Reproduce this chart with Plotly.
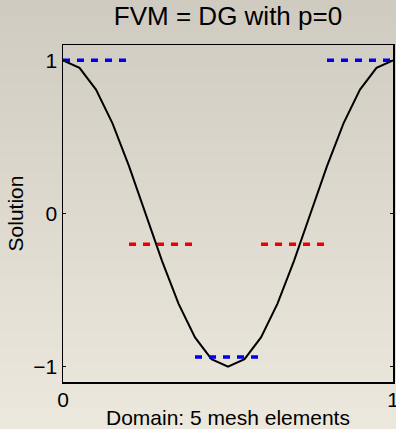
import plotly.graph_objects as go

# ---- data ----
curve_x = [0.0, 0.05, 0.1, 0.15, 0.2, 0.25, 0.3, 0.35, 0.4, 0.45, 0.5,
           0.55, 0.6, 0.65, 0.7, 0.75, 0.8, 0.85, 0.9, 0.95, 1.0]
curve_y = [1.0, 0.951, 0.809, 0.588, 0.309, 0.0, -0.309, -0.588, -0.809, -0.951, -1.0,
           -0.951, -0.809, -0.588, -0.309, 0.0, 0.309, 0.588, 0.809, 0.951, 1.0]

element_left = [0.0, 0.2, 0.4, 0.6, 0.8]
element_right = [0.2, 0.4, 0.6, 0.8, 1.0]
element_value = [1.0, -0.2, -0.937, -0.2, 1.0]
element_color = ["#0000ee", "#ee0000", "#0000ee", "#ee0000", "#0000ee"]

y_ticks = [-1, 0, 1]
y_tick_text = ["\u22121", "0", "1"]
x_ticks = [0, 1]
x_tick_text = ["0", "1"]

FONT = "Liberation Sans, Arial, sans-serif"
W, H = 396, 429
ML, MR, MT, MB = 63, 3, 45, 47

fig = go.Figure()

fig.add_trace(go.Scatter(x=curve_x, y=curve_y, mode="lines",
                         line=dict(color="black", width=2), hoverinfo="skip",
                         showlegend=False, cliponaxis=False))

for xl, xr, v, c in zip(element_left, element_right, element_value, element_color):
    fig.add_trace(go.Scatter(x=[xl, xr], y=[v, v], mode="lines",
                             line=dict(color=c, width=3.5, dash="7px,7px"),
                             showlegend=False, hoverinfo="skip"))

# background vertical gradient (styling)
pw = W - ML - MR
ph = H - MT - MB
top = (207, 203, 193)
bot = (236, 232, 222)
shapes = []
step = 3
for py in range(0, H, step):
    t = py / (H - 1)
    col = tuple(int(round(top[i] + (bot[i] - top[i]) * t)) for i in range(3))
    y1 = (H - MB - py) / ph
    y0 = (H - MB - (py + step)) / ph
    shapes.append(dict(type="rect", xref="paper", yref="paper",
                       x0=-ML / pw - 0.01, x1=1 + MR / pw + 0.01, y0=y0, y1=y1,
                       fillcolor="rgb(%d,%d,%d)" % col, line=dict(width=0),
                       layer="below"))

fig.update_layout(
    width=W, height=H,
    margin=dict(l=ML, r=MR, t=MT, b=MB, autoexpand=False),
    paper_bgcolor="rgb(222,218,208)",
    plot_bgcolor="rgba(0,0,0,0)",
    shapes=shapes,
    font=dict(family=FONT, size=21, color="black"),
    title=dict(text="FVM = DG with p=0", x=(ML + pw / 2) / W, xanchor="center",
               y=1 - 16 / H, yanchor="middle", yref="container", automargin=False,
               font=dict(family=FONT, size=26, color="black")),
    annotations=[dict(text="Domain: 5 mesh elements", xref="paper", yref="paper",
                      x=0.5, y=0, xanchor="center", yanchor="top", yshift=-22,
                      showarrow=False, font=dict(family=FONT, size=21, color="black"))],
    xaxis=dict(range=[0, 1], tickvals=x_ticks, ticktext=x_tick_text,
               showgrid=False, zeroline=False, showline=True, linecolor="black",
               linewidth=1.5, mirror="ticks", ticks="inside", ticklen=3,
               tickcolor="black", automargin=False, ticklabeloverflow="allow",
               ticklabelstandoff=-2),
    yaxis=dict(range=[-1.1, 1.1], tickvals=y_ticks, ticktext=y_tick_text,
               showgrid=False, zeroline=False, showline=True, linecolor="black",
               linewidth=1.5, mirror="ticks", ticks="inside", ticklen=3,
               tickcolor="black", automargin=False,
               title=dict(text="Solution", standoff=4, font=dict(size=21))),
)

fig.write_html("out.html",
               config={"displayModeBar": False, "staticPlot": True},
               post_script="document.body.style.margin='0';"
                           "document.body.style.overflow='hidden';")
